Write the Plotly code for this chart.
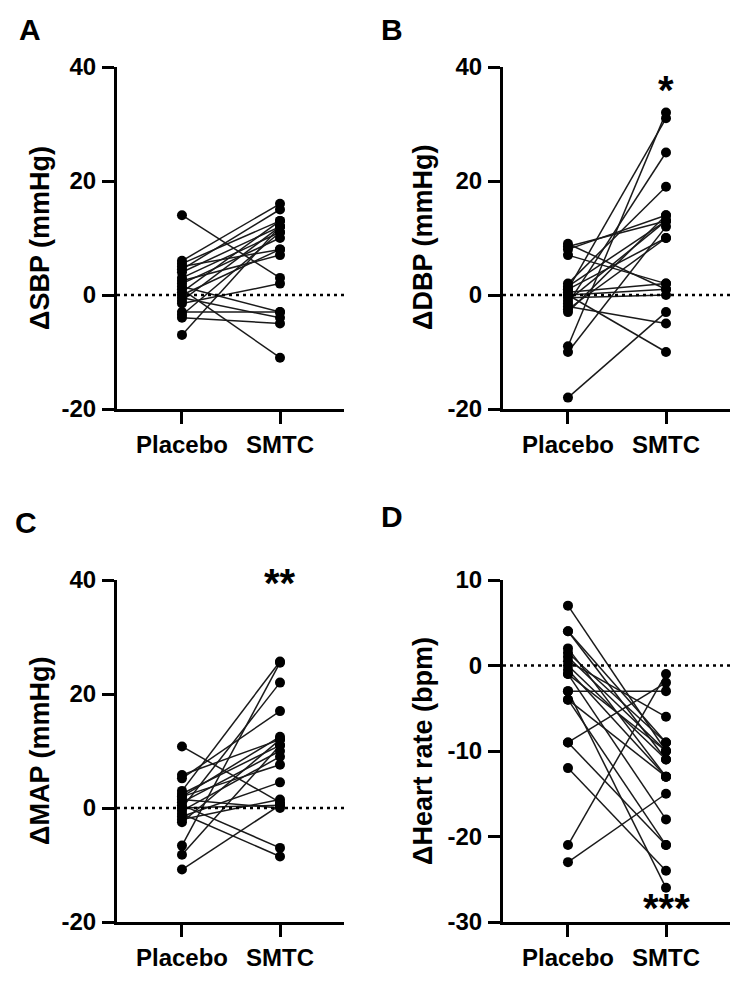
import plotly.graph_objects as go

# ---------------- data ----------------
groups = ["Placebo", "SMTC"]

sbp_placebo = [14, 6, 5.5, 5, 4.5, 4, 3, 2.5, 2, 1.5, 1, 0.5, 0, -0.5, -1, -1.5, -3, -3.5, -4, -7]
sbp_smtc    = [3, 16, 13, 8, 15, 12, 11, 7, 10, -3, -11, 13, 8, -4, 12, 2, -3, 11, -5, 12]

dbp_placebo = [9, 8.5, 8, 7, 2, 1.5, 1, 1, 0.5, 0, 0, -0.5, -1, -1.5, -2, -3, -9, -10, -18, -2.5]
dbp_smtc    = [1, 13, 14, 2, 19, 13, 10, 31, 2, 1, -10, 0, 13, 25, -5, 14, 32, 12, -3, 10]

map_placebo = [10.8, 5.8, 5.2, 3, 2.5, 2, 1.5, 1, 0.5, 0, 0, -0.5, -1, -1.5, -2, -2.5, -6.6, -8.2, -10.8, 2]
map_smtc    = [1, 12, 17, 25.7, 11, 12.5, 0, 10, -7, 0.5, 22, 9, -8.5, 4.5, 1.5, 12, 25.5, 11, 0.5, 7.6]

hr_placebo = [7, 4, 4, 2, 1.5, 1, 0.5, 0, -0.5, -1, -1, -3, -3, -4, -4, -9, -12, -21, -23, -9]
hr_smtc    = [-10, -9, -11, -13, -9, -10, -6, -11, -13, -18, -10, -3, -26, -13, -21, -2, -24, -1, -15, -21]

panels = [
    dict(letter="A", title="ΔSBP (mmHg)", pl=sbp_placebo, sm=sbp_smtc,
         yr=[-20, 40], yt=[-20, 0, 20, 40], star=None),
    dict(letter="B", title="ΔDBP (mmHg)", pl=dbp_placebo, sm=dbp_smtc,
         yr=[-20, 40], yt=[-20, 0, 20, 40], star=("*", 36.0)),
    dict(letter="C", title="ΔMAP (mmHg)", pl=map_placebo, sm=map_smtc,
         yr=[-20, 40], yt=[-20, 0, 20, 40], star=("**", 39.5)),
    dict(letter="D", title="ΔHeart rate (bpm)", pl=hr_placebo, sm=hr_smtc,
         yr=[-30, 10], yt=[-30, -20, -10, 0, 10], star=("***", -28.4)),
]

# ---------------- layout geometry (page pixels; page body has an 8px margin) ----------------
OFF = 8
W, H = 740 - 2 * OFF, 984 - 2 * OFF
FONT = "Liberation Sans, Arial, Helvetica, sans-serif"
xpix = [(117, 344), (503, 730), (117, 344), (503, 730)]
ypix = [(67, 409), (67, 409), (580, 922), (580, 922)]
letter_pos = [(30, 29), (392, 29), (26, 522), (392, 516)]
title_x = [40, 423, 40, 423]


def fx(p):
    return (p - OFF) / W


def fy(p):
    return 1 - (p - OFF) / H


fig = go.Figure()
layout = dict(width=W, height=H, margin=dict(l=0, r=0, t=0, b=0, pad=0),
              paper_bgcolor="white", plot_bgcolor="white", showlegend=False,
              annotations=[], shapes=[])

for i, p in enumerate(panels):
    n = i + 1
    xa = "x" if n == 1 else f"x{n}"
    ya = "y" if n == 1 else f"y{n}"
    xs, ys = [], []
    for a, b in zip(p["pl"], p["sm"]):
        xs += [0, 1, None]
        ys += [a, b, None]
    fig.add_trace(go.Scatter(
        x=xs, y=ys, mode="lines+markers", xaxis=xa, yaxis=ya,
        line=dict(color="#1a1a1a", width=1.5),
        marker=dict(color="black", size=10, line=dict(width=0)),
        cliponaxis=False, hoverinfo="skip"))

    x0, x1 = xpix[i]
    y0, y1 = ypix[i]
    axis_common = dict(showline=True, linewidth=3, linecolor="black",
                       ticks="outside", ticklen=12, tickwidth=3, tickcolor="black",
                       showgrid=False, zeroline=False, automargin=False,
                       tickfont=dict(family=FONT, size=24, color="black", weight="bold"))
    layout["xaxis" if n == 1 else f"xaxis{n}"] = dict(
        domain=[fx(x0), fx(x1)], anchor=ya, range=[-0.663, 1.653],
        tickvals=[0, 1], ticktext=groups, **axis_common)
    layout["yaxis" if n == 1 else f"yaxis{n}"] = dict(
        domain=[fy(y1), fy(y0)], anchor=xa, range=p["yr"],
        tickvals=p["yt"], ticktext=[str(v) for v in p["yt"]], ticklabelstandoff=1,
        **axis_common)

    # dotted zero line
    layout["shapes"].append(dict(type="line", xref=f"{xa} domain", yref=ya,
                                 x0=0, x1=1, y0=0, y1=0,
                                 line=dict(color="black", width=2.5, dash="3px,4px")))
    # panel letter
    lx, ly = letter_pos[i]
    layout["annotations"].append(dict(text=p["letter"], xref="paper", yref="paper",
                                      x=fx(lx), y=fy(ly), showarrow=False,
                                      xanchor="center", yanchor="middle",
                                      font=dict(family=FONT, size=30, color="black", weight="bold")))
    # y axis title
    layout["annotations"].append(dict(text=p["title"], xref="paper", yref=f"{ya} domain",
                                      x=fx(title_x[i]), y=0.5, showarrow=False, textangle=-90,
                                      xanchor="center", yanchor="middle",
                                      font=dict(family=FONT, size=27, color="black", weight="bold")))
    if p["star"]:
        s, sy = p["star"]
        layout["annotations"].append(dict(text=s, xref=xa, yref=ya, x=1, y=sy,
                                          showarrow=False, xanchor="center", yanchor="middle",
                                          font=dict(family=FONT, size=40, color="black", weight="bold")))

fig.update_layout(**layout)
fig.write_html("out.html")
